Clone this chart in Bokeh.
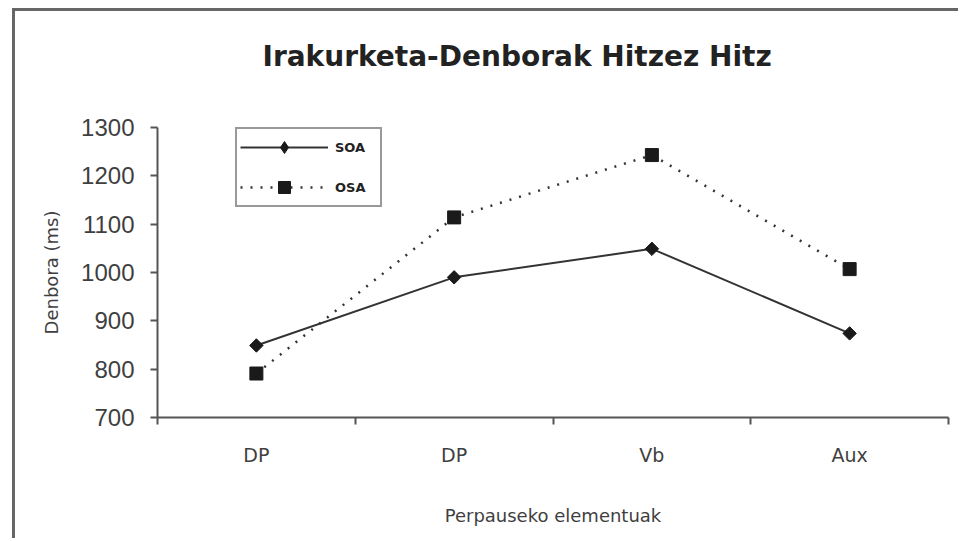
import math
from bokeh.plotting import figure
from bokeh.embed import file_html
from bokeh.resources import INLINE
from bokeh.models import (FixedTicker, CustomJSTickFormatter, Legend, LegendItem, Range1d)

title = "Irakurketa-Denborak Hitzez Hitz"
categories = ["DP", "DP", "Vb", "Aux"]
soa = [849, 990, 1049, 874]
osa = [791, 1114, 1243, 1007]
y_ticks = [700, 800, 900, 1000, 1100, 1200, 1300]
x_label = "Perpauseko elementuak"
y_label = "Denbora (ms)"

xs = [i + 0.5 for i in range(len(categories))]

p = figure(width=946, height=530, output_backend="svg", toolbar_location=None,
           x_range=Range1d(0, len(categories)), y_range=Range1d(y_ticks[0], y_ticks[-1]),
           min_border_left=142, min_border_right=13, min_border_top=116, min_border_bottom=124)
p.styles = {"margin-left": "12px", "margin-top": "8px",
            "border-left": "3px solid #666666", "border-top": "3px solid #666666"}
p.outline_line_color = None
p.xgrid.visible = False
p.ygrid.visible = False
p.background_fill_color = "white"
p.border_fill_color = "white"

# title (a trailing empty line lifts it further above the frame)
p.title.text = title + "\n"
p.title.align = "left"
p.title.offset = 105
p.title.standoff = 44
p.title.text_font = "DejaVu Sans"
p.title.text_font_style = "bold"
p.title.text_font_size = "28px"
p.title.text_color = "#222222"

axis_color = "#555555"
text_color = "#3f3f3f"

# y axis
p.yaxis.ticker = FixedTicker(ticks=y_ticks, minor_ticks=[])
p.yaxis.axis_line_color = axis_color
p.yaxis.axis_line_width = 2
p.yaxis.major_tick_line_color = axis_color
p.yaxis.major_tick_line_width = 2
p.yaxis.major_tick_out = 7
p.yaxis.major_tick_in = 0
p.yaxis.major_label_text_font = "Liberation Sans"
p.yaxis.major_label_text_font_size = "24px"
p.yaxis.major_label_text_color = text_color
p.yaxis.major_label_standoff = 16
p.yaxis.axis_label = y_label
p.yaxis.axis_label_text_font = "DejaVu Sans"
p.yaxis.axis_label_text_font_size = "18px"
p.yaxis.axis_label_text_font_style = "normal"
p.yaxis.axis_label_text_color = text_color
p.yaxis.axis_label_standoff = 16

# x axis
p.xaxis.ticker = FixedTicker(ticks=xs, minor_ticks=list(range(len(categories) + 1)))
p.xaxis.formatter = CustomJSTickFormatter(args=dict(labels=categories),
                                         code="return labels[Math.floor(tick)] || '';")
p.xaxis.axis_line_color = axis_color
p.xaxis.axis_line_width = 2
p.xaxis.major_tick_line_color = None
p.xaxis.minor_tick_line_color = axis_color
p.xaxis.minor_tick_line_width = 2
p.xaxis.minor_tick_out = 7
p.xaxis.minor_tick_in = 0
p.xaxis.major_tick_out = 0
p.xaxis.major_tick_in = 0
p.xaxis.major_label_text_font = "DejaVu Sans"
p.xaxis.major_label_text_font_size = "19px"
p.xaxis.major_label_text_color = text_color
p.xaxis.major_label_standoff = 19
p.xaxis.axis_label = x_label
p.xaxis.axis_label_text_font = "DejaVu Sans"
p.xaxis.axis_label_text_font_size = "18px"
p.xaxis.axis_label_text_font_style = "normal"
p.xaxis.axis_label_text_color = text_color
p.xaxis.axis_label_standoff = 36

line_color = "#333333"
mark_color = "#1a1a1a"
r1 = p.line(xs, soa, line_color=line_color, line_width=2)
m1 = p.scatter(xs, soa, marker="square", angle=math.pi / 4, size=9.5,
               fill_color=mark_color, line_color=mark_color)
r2 = p.line(xs, osa, line_color=line_color, line_width=2.5, line_dash="2 8")
m2 = p.scatter(xs, osa, marker="square", size=13, fill_color=mark_color, line_color=mark_color)
# legend-only glyph (legend markers are drawn unrotated); NaN position, never drawn in the plot
k1 = p.scatter(x=[float("nan")], y=[float("nan")], marker="diamond",
               fill_color=mark_color, line_color=mark_color)

legend = Legend(items=[LegendItem(label="SOA", renderers=[r1, k1]),
                       LegendItem(label="OSA", renderers=[r2, m2])],
                location=(78, 210))
legend.border_line_color = "#333333"
legend.border_line_width = 2
legend.background_fill_alpha = 1
legend.glyph_width = 88
legend.glyph_height = 30
legend.spacing = 10
legend.padding = 3
legend.margin = 0
legend.label_standoff = 7
legend.label_width = 42
legend.label_text_font = "DejaVu Sans"
legend.label_text_font_style = "bold"
legend.label_text_font_size = "13px"
legend.label_text_color = "#222222"
legend.label_height = 30
p.add_layout(legend, "center")

open("out.html", "w").write(file_html(p, INLINE))
